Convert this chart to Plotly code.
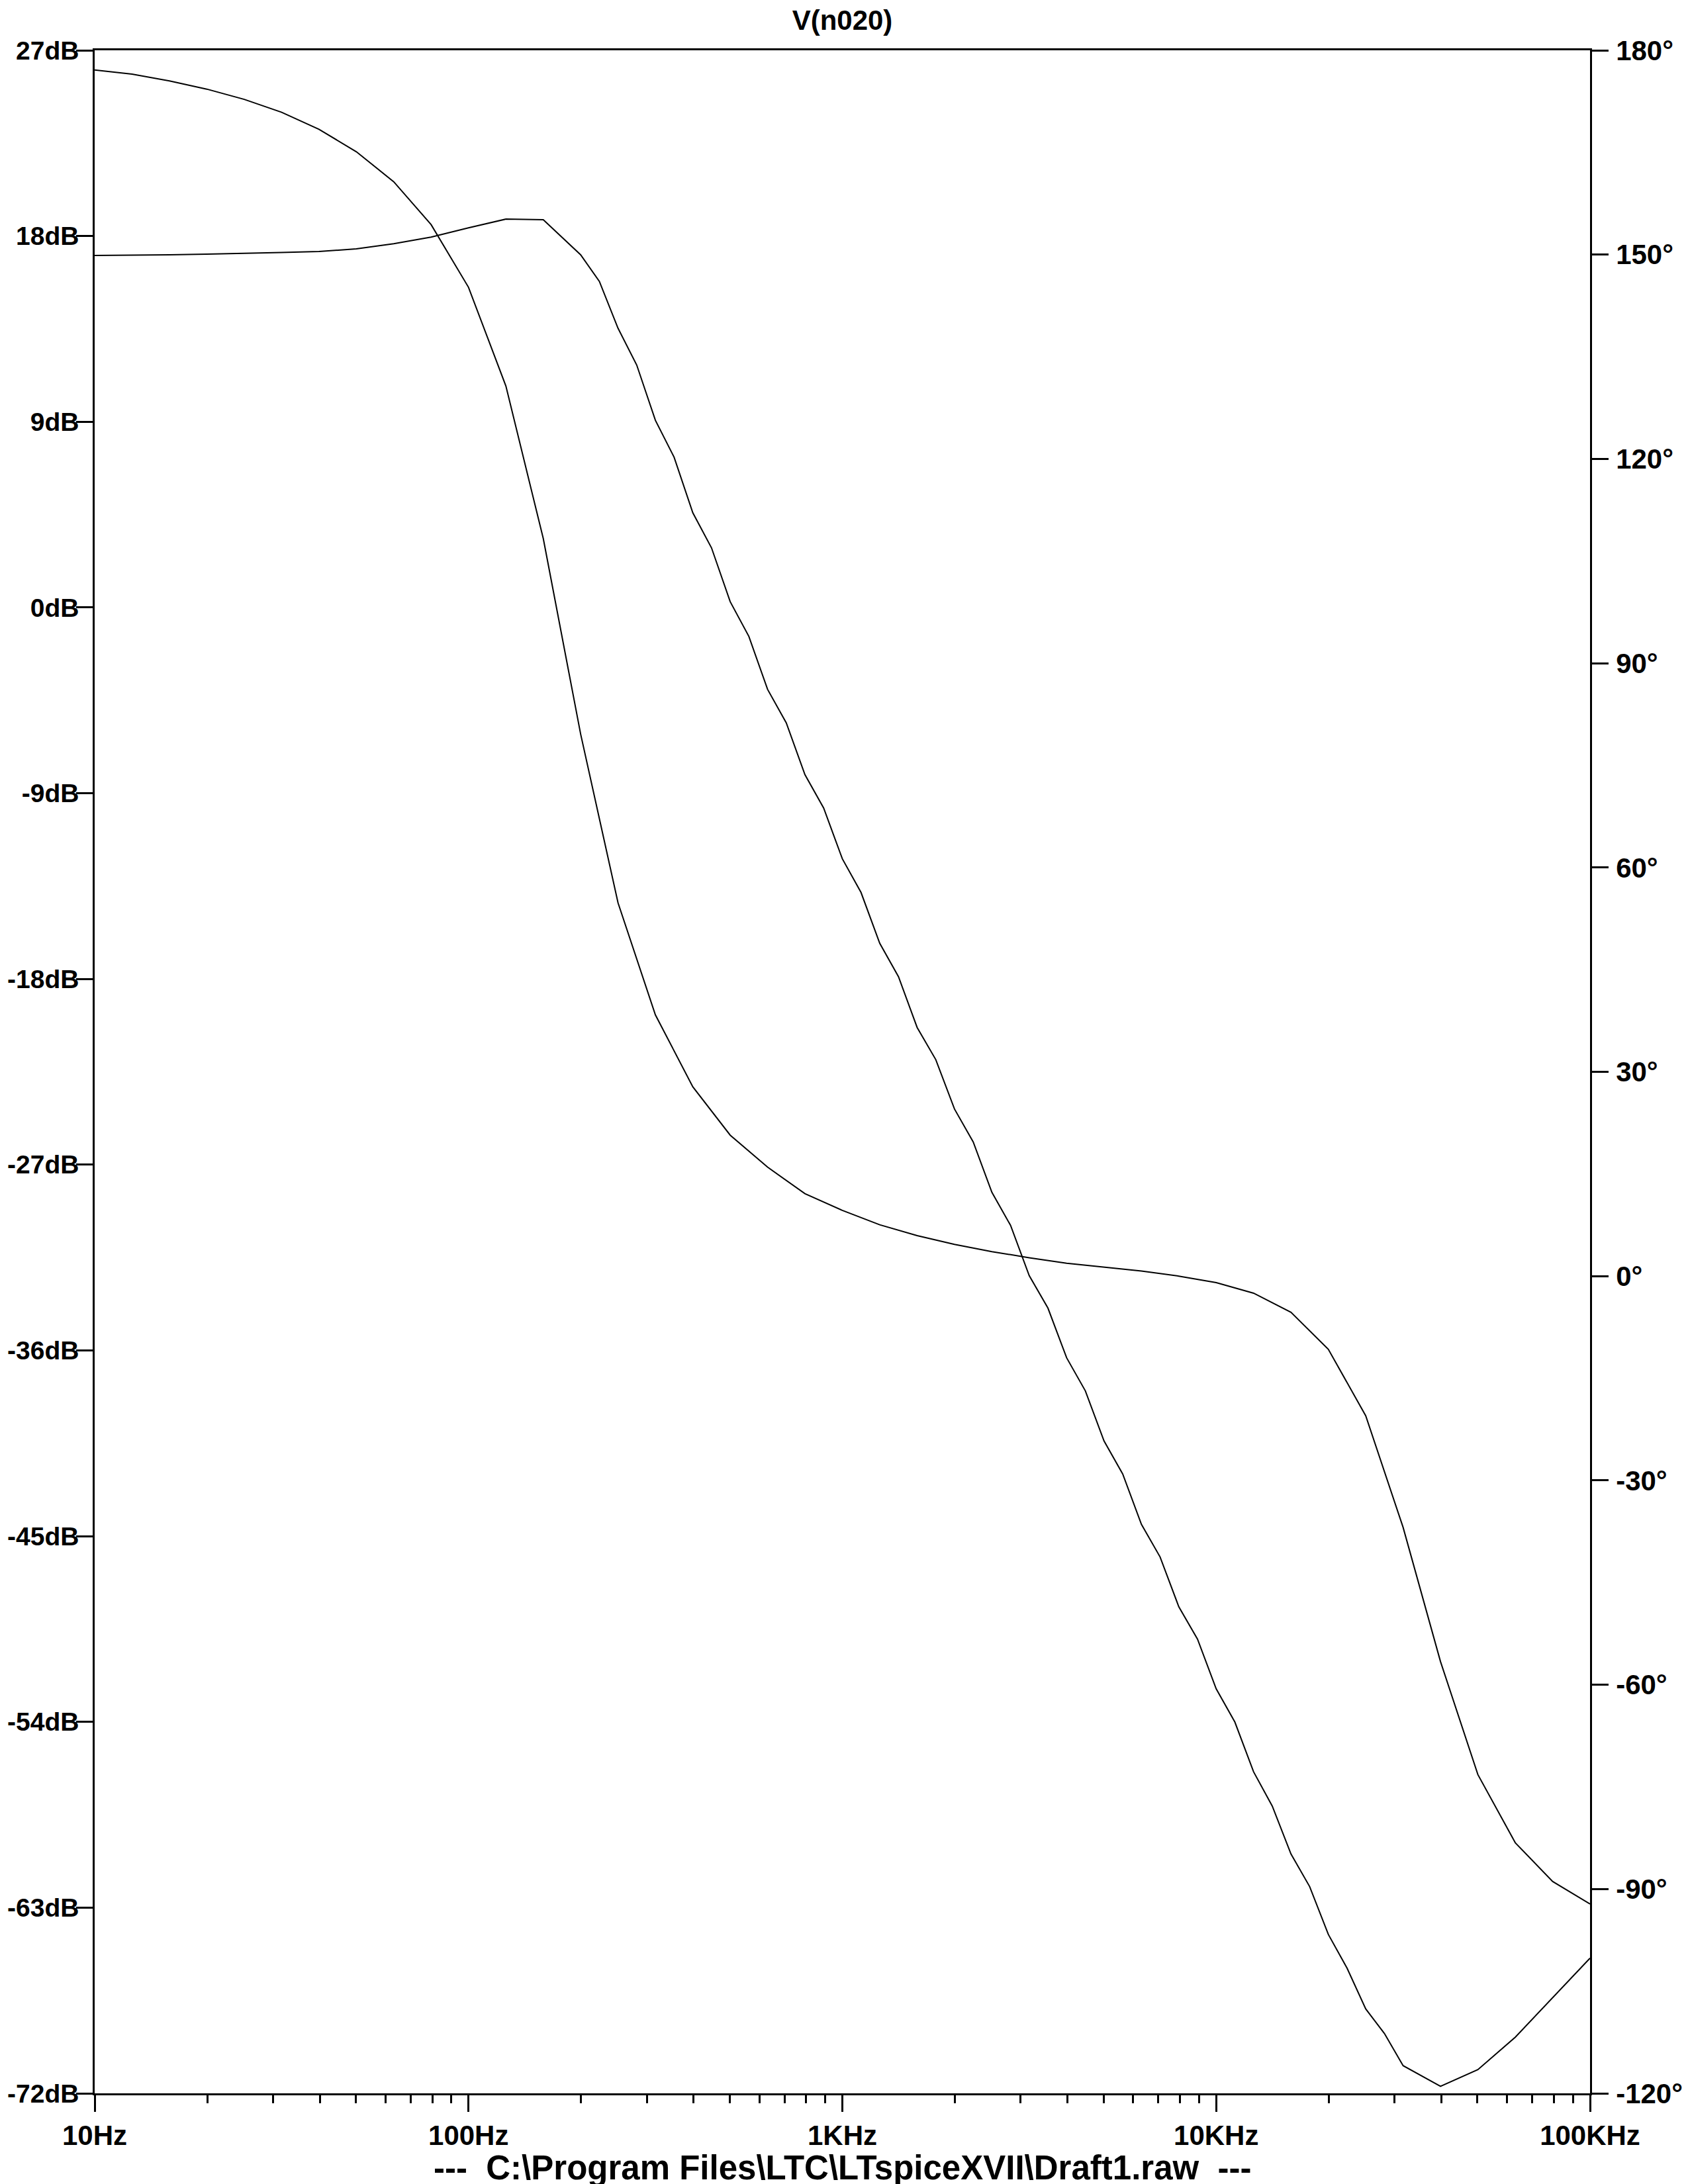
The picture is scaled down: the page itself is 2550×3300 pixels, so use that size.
import plotly.graph_objects as go

# Phase curve: frequency points (Hz), 10 points per decade
freq_hz = [10, 12.59, 15.85, 19.95, 25.12, 31.62, 39.81, 50.12, 63.10, 79.43,
           100, 125.9, 158.5, 199.5, 251.2, 316.2, 398.1, 501.2, 631.0, 794.3,
           1000, 1259, 1585, 1995, 2512, 3162, 3981, 5012, 6310, 7943,
           10000, 12589, 15849, 19953, 25119, 31623, 39811, 50119, 63096, 79433,
           100000]

# Phase of V(n020) in degrees (right axis)
phase_deg = [177.1, 176.5, 175.5, 174.3, 172.8, 170.9, 168.4, 165.1, 160.7, 154.4,
             145.2, 130.7, 108.3, 79.6, 54.8, 38.35, 27.8, 20.7, 16.0, 12.1,
             9.65, 7.54, 5.95, 4.66, 3.6, 2.7, 1.9, 1.35, 0.75, 0.0,
             -0.95, -2.5, -5.3, -10.75, -20.5, -36.9, -56.6, -73.2, -83.2, -88.9,
             -92.2]

# Magnitude curve: frequency points (Hz), including the visible bends between samples
freq_mag_hz = [10, 12.59, 15.85, 19.95, 25.12, 31.62, 39.81, 50.12, 63.10, 79.43,
               100, 125.9, 158.5, 199.5,
               223.9, 251.2, 281.8, 316.2, 354.8, 398.1, 446.7, 501.2, 562.3, 631.0,
               707.9, 794.3, 891.3, 1000, 1122, 1259, 1413, 1585, 1778, 1995,
               2239, 2512, 2818, 3162, 3548, 3981, 4467, 5012, 5623, 6310,
               7079, 7943, 8913, 10000, 11220, 12589, 14125, 15849, 17783, 19953,
               22387, 25119, 28184, 31623,
               39811, 50119, 63096, 79433, 100000]

# Magnitude of V(n020) in dB (left axis)
mag_db = [17.06, 17.07, 17.09, 17.12, 17.15, 17.20, 17.25, 17.38, 17.63, 17.95,
          18.40, 18.82, 18.79, 17.09,
          15.80, 13.53, 11.75, 9.07, 7.28, 4.59, 2.89, 0.28, -1.40, -3.97,
          -5.59, -8.10, -9.72, -12.18, -13.81, -16.27, -17.89, -20.35, -21.91, -24.30,
          -25.90, -28.34, -29.94, -32.38, -33.95, -36.36, -37.96, -40.39, -41.99, -44.43,
          -46.01, -48.42, -49.99, -52.40, -54.01, -56.42, -58.08, -60.40, -61.98, -64.30,
          -65.93, -67.91, -69.10, -70.66,
          -71.66, -70.85, -69.28, -67.35, -65.45]

x_tickvals = [10, 100, 1000, 10000, 100000]
x_ticktext = ["10Hz", "100Hz", "1KHz", "10KHz", "100KHz"]
db_tickvals = [27, 18, 9, 0, -9, -18, -27, -36, -45, -54, -63, -72]
db_ticktext = ["27dB", "18dB", "9dB", "0dB", "-9dB", "-18dB", "-27dB", "-36dB",
               "-45dB", "-54dB", "-63dB", "-72dB"]
deg_tickvals = [180, 150, 120, 90, 60, 30, 0, -30, -60, -90, -120]
deg_ticktext = ["180°", "150°", "120°", "90°", "60°", "30°", "0°", "-30°",
                "-60°", "-90°", "-120°"]

title_text = "V(n020)"
caption_text = "---\u00a0\u00a0C:\\Program Files\\LTC\\LTspiceXVII\\Draft1.raw\u00a0\u00a0---"

minor_vals = [m * 10 ** d for d in range(1, 5) for m in range(2, 10)]

FONT = "Liberation Sans, Arial, sans-serif"
W, H = 2550, 3300
OFF = 8  # page body margin of the browser
L, R, T, B = 143 - OFF, 148 + OFF, 76 - OFF, 137 + OFF
PH = H - T - B

fig = go.Figure()
fig.add_trace(go.Scatter(x=freq_mag_hz, y=mag_db, mode="lines",
                         line=dict(color="black", width=2), yaxis="y",
                         showlegend=False))
fig.add_trace(go.Scatter(x=freq_hz, y=phase_deg, mode="lines",
                         line=dict(color="black", width=2), yaxis="y2",
                         showlegend=False))


def axis_style(size):
    return dict(showgrid=False, zeroline=False, showline=True,
                linecolor="black", linewidth=2.5, ticks="outside",
                tickcolor="black", tickwidth=2.5, ticklen=25, automargin=False,
                tickfont=dict(family=FONT, size=size, color="black", weight="bold"))


fig.update_layout(
    width=W, height=H, autosize=False,
    margin=dict(l=L, r=R, t=T, b=B, pad=0, autoexpand=False),
    paper_bgcolor="white", plot_bgcolor="white",
    showlegend=False,
    title=dict(text=title_text, x=0.5, xref="paper", xanchor="center",
               y=1 - (30 - OFF) / H, yref="container", yanchor="middle",
               font=dict(family=FONT, size=42, color="black", weight="bold")),
    xaxis=dict(type="log", range=[1, 5], tickmode="array",
               tickvals=x_tickvals, ticktext=x_ticktext, mirror=True,
               minor=dict(tickmode="array", tickvals=minor_vals, ticks="outside",
                          ticklen=12, tickwidth=2.5, tickcolor="black",
                          showgrid=False),
               **axis_style(42)),
    yaxis=dict(range=[-72, 27], tickmode="array", tickvals=db_tickvals,
               ticktext=db_ticktext, side="left", ticklabelstandoff=-12,
               **axis_style(39)),
    yaxis2=dict(range=[-120, 180], tickmode="array", tickvals=deg_tickvals,
                ticktext=deg_ticktext, side="right", overlaying="y",
                ticklabelstandoff=3, **axis_style(42)),
    annotations=[dict(text=caption_text, xref="paper", yref="paper",
                      x=0.5, y=(T + PH - (3275 - OFF)) / PH,
                      xanchor="center", yanchor="middle", showarrow=False,
                      font=dict(family=FONT, size=51, color="black", weight="bold"))],
)

fig.write_html("out.html")
